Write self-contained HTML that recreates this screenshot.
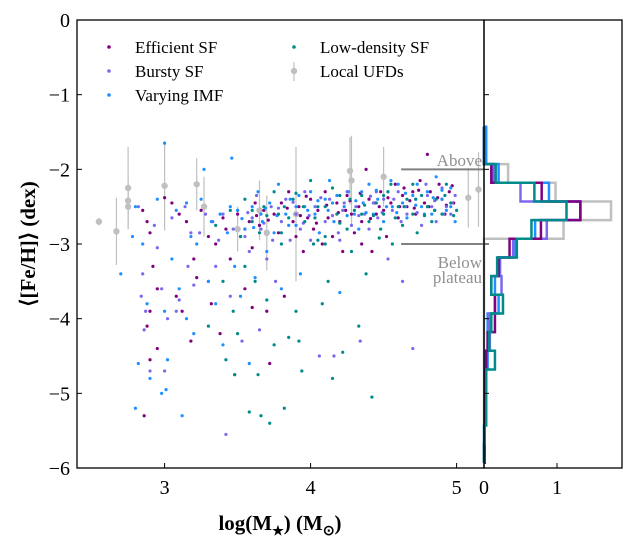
<!DOCTYPE html>
<html><head><meta charset="utf-8"><style>
body{margin:0;background:#fff}
svg{display:block;font-family:"Liberation Serif",serif}
</style></head><body>
<svg id="c" width="636" height="548" viewBox="0 0 636 548"></svg>
<script>
const effData=[2.85,-2.55,2.88,-2.7,2.9,-2.85,2.92,-3.3,2.95,-3.6,2.9,-3.9,2.88,-4.1,2.95,-4.4,2.9,-4.55,2.86,-5.3,3.0,-2.38,3.05,-2.45,3.1,-2.6,3.08,-3.7,3.12,-3.9,3.15,-2.7,3.2,-3.2,3.22,-3.45,3.18,-4.3,3.25,-2.55,3.3,-2.9,3.35,-3.0,3.32,-3.8,3.4,-2.65,3.42,-2.8,3.45,-3.2,3.48,-4.75,3.5,-2.6,3.52,-2.9,3.55,-3.6,3.58,-2.7,3.6,-3.05,3.62,-2.45,3.65,-2.75,3.68,-2.55,3.7,-3.9,3.72,-4.6,3.75,-2.6,3.78,-2.85,3.8,-2.45,3.82,-3.7,3.85,-2.3,3.88,-2.7,3.9,-2.9,3.92,-2.5,3.95,-3.1,3.98,-2.65,4.0,-2.4,4.02,-2.8,4.05,-2.55,4.08,-3.0,4.1,-2.3,4.12,-2.65,4.15,-2.9,4.18,-2.45,4.2,-2.7,4.22,-3.1,4.25,-2.35,4.28,-2.6,4.3,-2.85,4.33,-2.5,4.35,-2.7,4.38,-2.0,4.4,-2.4,4.42,-3.1,4.45,-2.6,4.48,-2.3,4.5,-2.55,4.52,-2.9,4.55,-2.45,4.58,-2.2,4.6,-2.65,4.63,-2.35,4.66,-2.5,4.7,-2.3,4.72,-2.6,4.75,-2.15,4.78,-2.45,4.8,-1.8,4.82,-2.3,4.85,-2.55,4.88,-2.2,4.9,-2.4,4.92,-2.6,4.95,-2.3,4.98,-2.45,3.38,-4.2,3.6,-3.85,4.35,-3.0,
3.55,-2.8,3.63,-2.62,3.71,-2.68,3.84,-2.52,3.97,-2.36,4.04,-2.72,4.11,-2.48,4.19,-2.58,4.27,-2.42,4.34,-2.32,4.41,-2.66,4.47,-2.5,4.53,-2.38,4.61,-2.5,4.68,-2.42,4.74,-2.28,4.81,-2.5,4.87,-2.38,4.93,-2.48,4.97,-2.22,4.71,-2.52,4.64,-2.25,4.44,-2.45,4.24,-2.55,3.93,-2.62];
const burData=[2.82,-2.5,2.85,-3.4,2.84,-3.7,2.87,-3.9,2.86,-4.15,2.9,-4.7,2.93,-2.75,2.95,-3.05,2.98,-3.6,3.0,-4.7,3.02,-4.0,3.05,-2.65,3.08,-3.9,3.1,-3.75,3.14,-2.5,3.16,-3.3,3.2,-3.55,3.24,-2.85,3.28,-2.6,3.3,-3.5,3.33,-2.7,3.37,-2.95,3.4,-2.6,3.42,-5.55,3.45,-3.7,3.47,-2.8,3.5,-2.55,3.53,-4.3,3.55,-2.9,3.58,-3.1,3.6,-2.65,3.63,-2.35,3.66,-2.8,3.7,-3.2,3.73,-2.5,3.76,-3.5,3.8,-2.7,3.83,-2.4,3.86,-2.95,3.9,-2.6,3.93,-2.8,3.96,-2.3,4.0,-2.95,4.03,-2.5,4.06,-4.5,4.1,-2.7,4.13,-2.4,4.16,-4.5,4.19,-2.85,4.22,-2.55,4.25,-2.3,4.28,-2.75,4.31,-2.5,4.34,-4.3,4.37,-2.6,4.4,-2.8,4.43,-2.45,4.46,-2.65,4.5,-2.4,4.53,-3.2,4.56,-2.55,4.6,-2.3,4.63,-3.5,4.66,-2.6,4.7,-4.4,4.72,-2.4,4.76,-2.75,4.8,-2.35,4.83,-2.5,4.86,-2.7,4.9,-2.25,4.93,-2.5,4.96,-2.6,4.99,-2.35,3.65,-4.15,3.35,-3.3,3.18,-2.85,
3.57,-2.58,3.68,-2.72,3.78,-2.52,3.88,-2.44,3.99,-2.62,4.07,-2.38,4.15,-2.62,4.23,-2.45,4.33,-2.62,4.41,-2.36,4.49,-2.58,4.57,-2.4,4.65,-2.5,4.73,-2.58,4.79,-2.2,4.85,-2.42,4.91,-2.6,4.97,-2.45,4.62,-2.7,4.45,-2.3,4.2,-2.95,3.95,-2.72,3.74,-2.95];
const imfData=[2.7,-3.4,2.78,-2.9,2.8,-2.5,2.82,-4.6,2.8,-5.2,2.85,-3.0,2.88,-3.8,2.9,-4.8,2.95,-2.4,2.98,-5.0,3.0,-3.9,3.02,-4.55,3.01,-4.95,3.05,-3.2,3.08,-2.55,3.1,-3.6,3.12,-5.3,3.15,-4.0,3.18,-2.9,3.2,-4.2,3.22,-3.0,3.25,-2.4,3.27,-2.0,3.3,-3.5,3.32,-2.7,3.35,-3.8,3.38,-2.6,3.4,-4.35,3.43,-2.85,3.46,-1.85,3.48,-3.3,3.5,-2.55,3.52,-3.7,3.55,-2.8,3.58,-4.6,3.6,-2.5,3.62,-3.45,3.64,-2.3,3.67,-2.7,3.7,-3.1,3.72,-2.45,3.75,-2.85,3.78,-2.2,3.8,-3.6,3.83,-2.6,3.86,-2.4,3.9,-2.75,3.93,-3.4,3.96,-2.5,4.0,-2.3,4.03,-2.6,4.06,-2.85,4.1,-2.4,4.13,-2.15,4.16,-2.7,4.2,-3.65,4.23,-2.5,4.26,-2.3,4.3,-2.6,4.33,-2.8,4.36,-2.45,4.4,-2.2,4.43,-2.6,4.46,-2.4,4.5,-2.7,4.53,-2.3,4.56,-2.5,4.6,-2.2,4.63,-2.45,4.66,-2.65,4.7,-2.35,4.73,-2.2,4.76,-2.5,4.8,-2.3,4.83,-2.6,4.86,-2.1,4.9,-2.4,4.93,-2.55,4.96,-2.25,4.99,-2.7,3.0,-1.65,3.15,-2.45,3.45,-2.5,
3.53,-2.66,3.61,-2.78,3.69,-2.52,3.77,-2.62,3.85,-2.75,3.92,-2.35,3.98,-2.55,4.05,-2.42,4.12,-2.55,4.18,-2.35,4.25,-2.62,4.31,-2.42,4.38,-2.58,4.45,-2.28,4.52,-2.5,4.59,-2.58,4.65,-2.32,4.72,-2.48,4.78,-2.6,4.84,-2.38,4.9,-2.28,4.96,-2.5,4.55,-2.15,4.35,-2.3,4.15,-2.45,3.9,-2.5,3.66,-2.6];
const lowData=[3.45,-2.55,3.48,-4.75,3.42,-4.55,3.47,-3.9,3.5,-4.2,3.52,-2.9,3.55,-3.3,3.58,-5.25,3.6,-2.7,3.62,-3.5,3.64,-4.75,3.66,-5.3,3.68,-2.5,3.7,-3.75,3.72,-5.4,3.75,-4.35,3.78,-2.6,3.8,-3.0,3.82,-5.2,3.85,-4.25,3.88,-2.4,3.9,-3.9,3.92,-4.3,3.94,-4.7,3.96,-2.7,4.0,-2.15,4.02,-3.0,4.05,-2.5,4.08,-3.8,4.1,-2.9,4.12,-3.5,4.15,-4.8,4.18,-2.6,4.2,-2.35,4.22,-4.45,4.25,-2.8,4.28,-3.1,4.3,-2.55,4.33,-4.1,4.35,-2.35,4.38,-3.4,4.4,-2.7,4.42,-5.05,4.45,-2.45,4.48,-2.8,4.5,-2.6,4.53,-2.3,4.56,-3.0,4.6,-2.5,4.63,-2.75,4.66,-2.4,4.7,-2.6,4.73,-2.85,4.76,-2.35,4.8,-2.5,4.83,-2.7,4.86,-2.4,4.9,-2.6,4.93,-2.2,4.96,-2.45,5.0,-2.55,3.55,-2.4,3.65,-2.85,3.75,-2.3,3.85,-2.65,3.95,-2.5,4.05,-2.95,4.15,-2.25,4.35,-2.6,4.55,-2.2,3.35,-2.75,3.4,-3.5,3.3,-4.1,
3.6,-2.55,3.7,-2.62,3.82,-2.5,3.9,-2.32,4.03,-2.65,4.1,-2.5,4.2,-2.72,4.27,-2.4,4.37,-2.48,4.43,-2.62,4.5,-2.35,4.58,-2.65,4.64,-2.5,4.72,-2.4,4.78,-2.62,4.85,-2.55,4.92,-2.35,4.98,-2.62,4.7,-2.2,4.47,-2.92,4.1,-3.0,3.8,-2.85];
const ufdX=[2.55,2.67,2.75,2.75,2.75,3.0,3.22,3.27,3.5,3.65,3.7,3.9,4.27,4.28,4.5,5.08,5.15];
const ufdY=[-2.7,-2.83,-2.25,-2.42,-2.5,-2.22,-2.2,-2.5,-2.8,-2.55,-2.85,-2.6,-2.02,-2.15,-2.1,-2.38,-2.27];
const ufdErr=[0.05,0.45,0.55,0.3,0.3,0.6,0.35,0.4,0.3,0.4,0.5,0.9,0.45,0.6,0.4,0.4,0.5];
const binTop=-1.43, binW=0.25;
const histUfd=[0,0,0.33,0.98,1.74,1.09,0,0,0,0,0,0,0,0,0,0,0,0];
const histLow=[0,0,0.16,0.69,1.13,0.65,0.45,0.18,0.1,0.26,0.1,0.07,0.15,0.03,0.03,0.03,0.01,0];
const histEff=[0,0,0.1,0.79,1.32,0.78,0.35,0.2,0.1,0.15,0.15,0.05,0.03,0.02,0.02,0.01,0.01,0.01];
const histBur=[0,0,0.13,0.5,1.32,0.86,0.4,0.22,0.24,0.15,0.07,0.08,0.02,0.03,0.01,0.01,0.01,0];
const histImf=[0.03,0.03,0.2,0.89,1.32,0.7,0.43,0.2,0.15,0.2,0.05,0.05,0.05,0.01,0.01,0.01,0,0];
const xTicks=[3,4,5], yTicks=[0,-1,-2,-3,-4,-5,-6], hTicks=[0,1];

const NS="http://www.w3.org/2000/svg", svg=document.getElementById('c');
const X=v=>77+(v-2.4)*146, Y=v=>20-v*74.67, H=v=>484+v*73;
function mk(t,a,p){const e=document.createElementNS(NS,t);for(const k in a)e.setAttribute(k,a[k]);(p||svg).appendChild(e);return e;}
const C={eff:'#800080',bur:'#7b68ee',imf:'#1e90ff',low:'#008b8b',ufd:'#c0c0c0'};
ufdX.forEach((x,i)=>{
 const g=mk('g',{});
 
 
 mk('line',{x1:X(x),x2:X(x),y1:Y(ufdY[i]+ufdErr[i]),y2:Y(ufdY[i]-ufdErr[i]),stroke:C.ufd,'stroke-width':1.2},g);
 mk('circle',{cx:X(x),cy:Y(ufdY[i]),r:3.2,fill:C.ufd},g);
});
function scatter(d,col,name){
 const g=mk('g',{fill:col});
 
 
 for(let i=0;i<d.length;i+=2)mk('circle',{cx:X(d[i]),cy:Y(d[i+1]),r:1.6},g);
}
scatter(effData,C.eff,'efficient-sf-points');
scatter(burData,C.bur,'bursty-sf-points');
scatter(imfData,C.imf,'varying-imf-points');
scatter(lowData,C.low,'low-density-sf-points');
[-2,-3].forEach(v=>{const l=mk('line',{x1:X(4.62),x2:484,y1:Y(v),y2:Y(v),stroke:'#808080','stroke-width':2});
 });
const ann=[["Above",482,166],["Below",482,268],["plateau",482,283]];
ann.forEach(a=>{const t=mk('text',{x:a[1],y:a[2],'text-anchor':'end','font-size':17,fill:'#909090'});t.textContent=a[0];
 });
function hist(h,col,name,w){
 let d='M'+H(0)+','+Y(binTop);
 h.forEach((v,i)=>{d+=' H'+H(v)+' V'+Y(binTop-(i+1)*binW);});
 d+=' H'+H(0);
 const p=mk('path',{d:d,fill:'none',stroke:col,'stroke-width':w});
 
 
}
hist(histUfd,C.ufd,'hist-ufd',2.5);
hist(histImf,C.imf,'hist-varying-imf',2.5);
hist(histBur,C.bur,'hist-bursty-sf',2.5);
hist(histEff,C.eff,'hist-efficient-sf',2.5);
hist(histLow,C.low,'hist-low-density-sf',2.5);
const f1=mk('rect',{x:77,y:20,width:407,height:448,fill:'none',stroke:'#000','stroke-width':1.3});

const f2=mk('rect',{x:484,y:20,width:138,height:448,fill:'none',stroke:'#000','stroke-width':1.3});

yTicks.forEach(v=>{
 mk('line',{x1:77,x2:82,y1:Y(v),y2:Y(v),stroke:'#000'});
 mk('line',{x1:484,x2:489,y1:Y(v),y2:Y(v),stroke:'#000'});
 const t=mk('text',{x:70,y:Y(v)+7,'text-anchor':'end','font-size':20});
 
 t.textContent=(v<0?'\u2212'+(-v):''+v);
});
xTicks.forEach(v=>{
 mk('line',{x1:X(v),x2:X(v),y1:468,y2:463,stroke:'#000'});
 const t=mk('text',{x:X(v),y:494,'text-anchor':'middle','font-size':20});
 
 t.textContent=v;
});
hTicks.forEach(v=>{
 mk('line',{x1:H(v),x2:H(v),y1:468,y2:463,stroke:'#000'});
 const t=mk('text',{x:H(v),y:494,'text-anchor':'middle','font-size':20});
 
 t.textContent=v;
});
</script>
<div style="position:absolute;left:0;top:0;width:636px;height:548px;pointer-events:none">
<svg width="636" height="548" style="position:absolute;left:0;top:0;font-family:'Liberation Serif',serif">
<text x="280" y="530" text-anchor="middle" font-size="21" font-weight="bold">log(M<tspan font-size="13" dy="5">★</tspan><tspan dy="-5">) (M</tspan><tspan font-size="14" dy="5">⊙</tspan><tspan dy="-5">)</tspan></text>
<text transform="translate(35,244) rotate(-90)" text-anchor="middle" font-size="21" font-weight="bold">⟨[Fe/H]⟩ (dex)</text>
<g font-size="17">
<circle cx="109" cy="47" r="1.8" fill="#800080"/><text x="135" y="53">Efficient SF</text>
<circle cx="109" cy="71" r="1.8" fill="#7b68ee"/><text x="135" y="77">Bursty SF</text>
<circle cx="109" cy="95" r="1.8" fill="#1e90ff"/><text x="135" y="101">Varying IMF</text>
<circle cx="294" cy="47" r="1.8" fill="#008b8b"/><text x="320" y="53">Low-density SF</text>
<line x1="294" y1="62" x2="294" y2="81" stroke="#c0c0c0" stroke-width="1.2"/><circle cx="294" cy="71" r="3.2" fill="#c0c0c0"/><text x="320" y="77">Local UFDs</text>
</g>
</svg></div>
</body></html>
